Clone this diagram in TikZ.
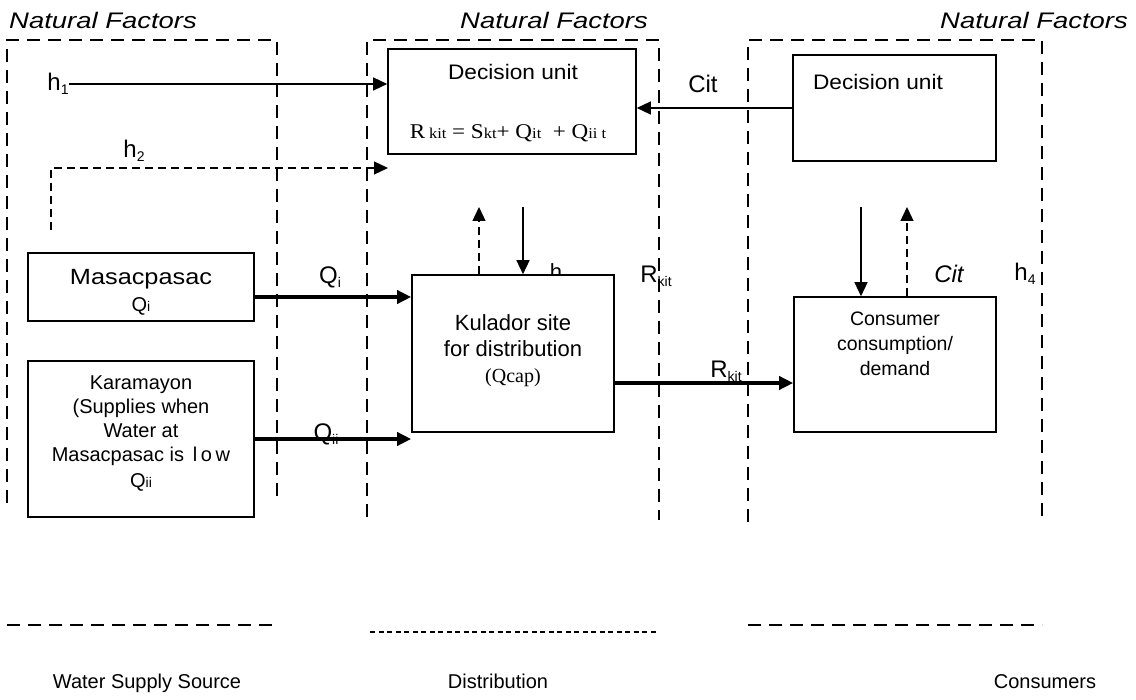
\documentclass[tikz,border=0pt]{standalone}
\usepackage{fontspec}
\usepackage{graphicx}
\setmainfont{Liberation Sans}
\newfontfamily\serifface{Liberation Serif}
\usetikzlibrary{arrows.meta}

% font size helper and the two kinds of subscripts used in the labels
\newcommand\fsz[2]{\fontsize{#1}{#2}\selectfont}
\newcommand\lowsub[1]{\raisebox{-4pt}{\fontsize{14}{14}\selectfont #1}}
\newcommand\flatsub[1]{{\fontsize{14}{14}\selectfont #1}}
\newcommand\eqsub[1]{{\fontsize{15}{15}\selectfont #1}}

\tikzset{
  zone/.style={line width=1.5pt, dash pattern=on 13pt off 8pt},
  finedash/.style={line width=1.3pt, dash pattern=on 8pt off 5pt},
  tinydash/.style={line width=1.3pt, dash pattern=on 5pt off 3.5pt},
  box/.style={draw, line width=1.6pt, fill=white, inner sep=0pt},
  lbl/.style={inner sep=0pt, align=center},
  caption/.style={inner sep=0pt, anchor=base, font=\fsz{20}{24}},
  arr/.style={line width=1.4pt, -{Triangle[length=14pt,width=13pt]}},
  thickarr/.style={line width=3.6pt, -{Triangle[length=14pt,width=13pt]}},
}

\begin{document}
\begin{tikzpicture}[x=1pt,y=-1pt]
\useasboundingbox (0,0) rectangle (1136,700);

% --- zone headings
\node[lbl] (nf1) at (103,20) {\scalebox{1.22}[1]{\fsz{22.5}{26}\itshape Natural Factors}};
\node[lbl] (nf2) at (554,20) {\scalebox{1.22}[1]{\fsz{22.5}{26}\itshape Natural Factors}};
\node[lbl] (nf3) at (1034,20) {\scalebox{1.22}[1]{\fsz{22.5}{26}\itshape Natural Factors}};

% --- dashed zone frames (open at the bottom)
\draw[zone] (7,503) -- (7,40) -- (277,40) -- (277,503);
\draw[zone] (367,517) -- (367,40) -- (659,40) -- (659,520);
\draw[zone] (748,522) -- (748,40) -- (1042,40) -- (1042,522);

% --- zone base lines and captions
\draw[zone] (7,625) -- (277,625);
\draw[tinydash] (370,632) -- (658,632);
\draw[zone] (748,625) -- (1042,625);
\node[caption] (cap1) at (147,688) {Water Supply Source};
\node[caption] (cap2) at (498,688) {Distribution};
\node[caption] (cap3) at (1045,688) {Consumers};

% --- partly hidden h label above the distribution site
\node[lbl, anchor=base] (h3) at (556,280) {\fsz{22}{26}h};

% --- boxes
\node[box, minimum width=248pt, minimum height=105pt] (du1) at (512,101.5) {};
\node[box, minimum width=203pt, minimum height=106pt] (du2) at (894.5,108) {};
\node[box, minimum width=226pt, minimum height=68pt]  (mas) at (141,287) {};
\node[box, minimum width=226pt, minimum height=156pt] (kar) at (141,439) {};
\node[box, minimum width=202pt, minimum height=157pt] (kul) at (513,353.5) {};
\node[box, minimum width=202pt, minimum height=135pt] (con) at (895,364.5) {};

% --- box contents
\node[lbl] (du1t) at (513,72) {\scalebox{1.08}[1]{\fsz{21}{25}Decision unit}};
\node[lbl] (du1e) at (508,133) {\scalebox{1.1}[1]{\serifface\fsz{21}{25}R\,\eqsub{kit} = S\eqsub{kt}+ Q\eqsub{it}~~+ Q\eqsub{ii t}}};
\node[lbl] (du2t) at (878,82) {\scalebox{1.08}[1]{\fsz{21}{25}Decision unit}};
\node[lbl] (mast) at (141,279) {\scalebox{1.15}[1]{\fsz{22}{26}Masacpasac}};
\node[lbl] (masq) at (141,306) {\fsz{20}{24}Q\flatsub{i}};
\node[lbl, font=\fsz{20}{24}] (kart) at (141,434)
  {Karamayon\\(Supplies when\\Water at\\Masacpasac is \,{\addfontfeature{LetterSpace=18}low}\\[2pt]Q\flatsub{ii}};
\node[lbl, font=\fsz{22}{26}] (kult) at (513,336) {Kulador site\\for distribution};
\node[lbl] (kulq) at (513,378) {\serifface\fsz{20}{24}(Qcap)};
\node[lbl, font=\fsz{19.5}{25}] (cont) at (895,344) {Consumer\\consumption/\\demand};

% --- flow labels
\node[lbl] (h1) at (58,84) {\fsz{24}{28}h\lowsub{1}};
\node[lbl] (h2) at (134,151) {\fsz{24}{28}h\lowsub{2}};
\node[lbl] (cit1) at (703,84) {\fsz{24}{28}Cit};
\node[lbl] (qi) at (330,277) {\fsz{24}{28}Q\lowsub{i}};
\node[lbl] (qii) at (326,434) {\fsz{24}{28}Q\lowsub{ii}};
\node[lbl] (rk1) at (656,276) {\fsz{24}{28}R\lowsub{kit}};
\node[lbl] (rk2) at (726,371) {\fsz{24}{28}R\lowsub{kit}};
\node[lbl] (cit2) at (949,274) {\fsz{24}{28}\itshape Cit};
\node[lbl] (h4) at (1025,274) {\fsz{24}{28}h\lowsub{4}};

% --- free ends of the vertical links and the h2 feed
\coordinate (h2s) at (51,230);
\coordinate (h2c) at (51,168);
\coordinate (h2e) at (388,168);
\coordinate (d1) at (523,207);
\coordinate (u1) at (479,207);
\coordinate (d2) at (861,207);
\coordinate (u2) at (907,207);

% --- connectors
\draw[arr] (h1.east) -- (h1.east -| du1.west);
\draw[arr, finedash] (h2s) -- (h2c) -- (h2e);
\draw[arr] (du2.west) -- (du2.west -| du1.east);
\draw[thickarr] ([yshift=-10pt]mas.east) -- ([yshift=-10pt]mas.east -| kul.west);
\draw[thickarr] (kar.east) -- (kar.east -| kul.west);
\draw[thickarr] ([yshift=-29.5pt]kul.east) -- ([yshift=-29.5pt]kul.east -| con.west);
\draw[arr] (d1) -- (d1 |- kul.north);
\draw[arr, finedash] (u1 |- kul.north) -- (u1);
\draw[arr] (d2) -- (d2 |- con.north);
\draw[arr, finedash] (u2 |- con.north) -- (u2);
\end{tikzpicture}
\end{document}
